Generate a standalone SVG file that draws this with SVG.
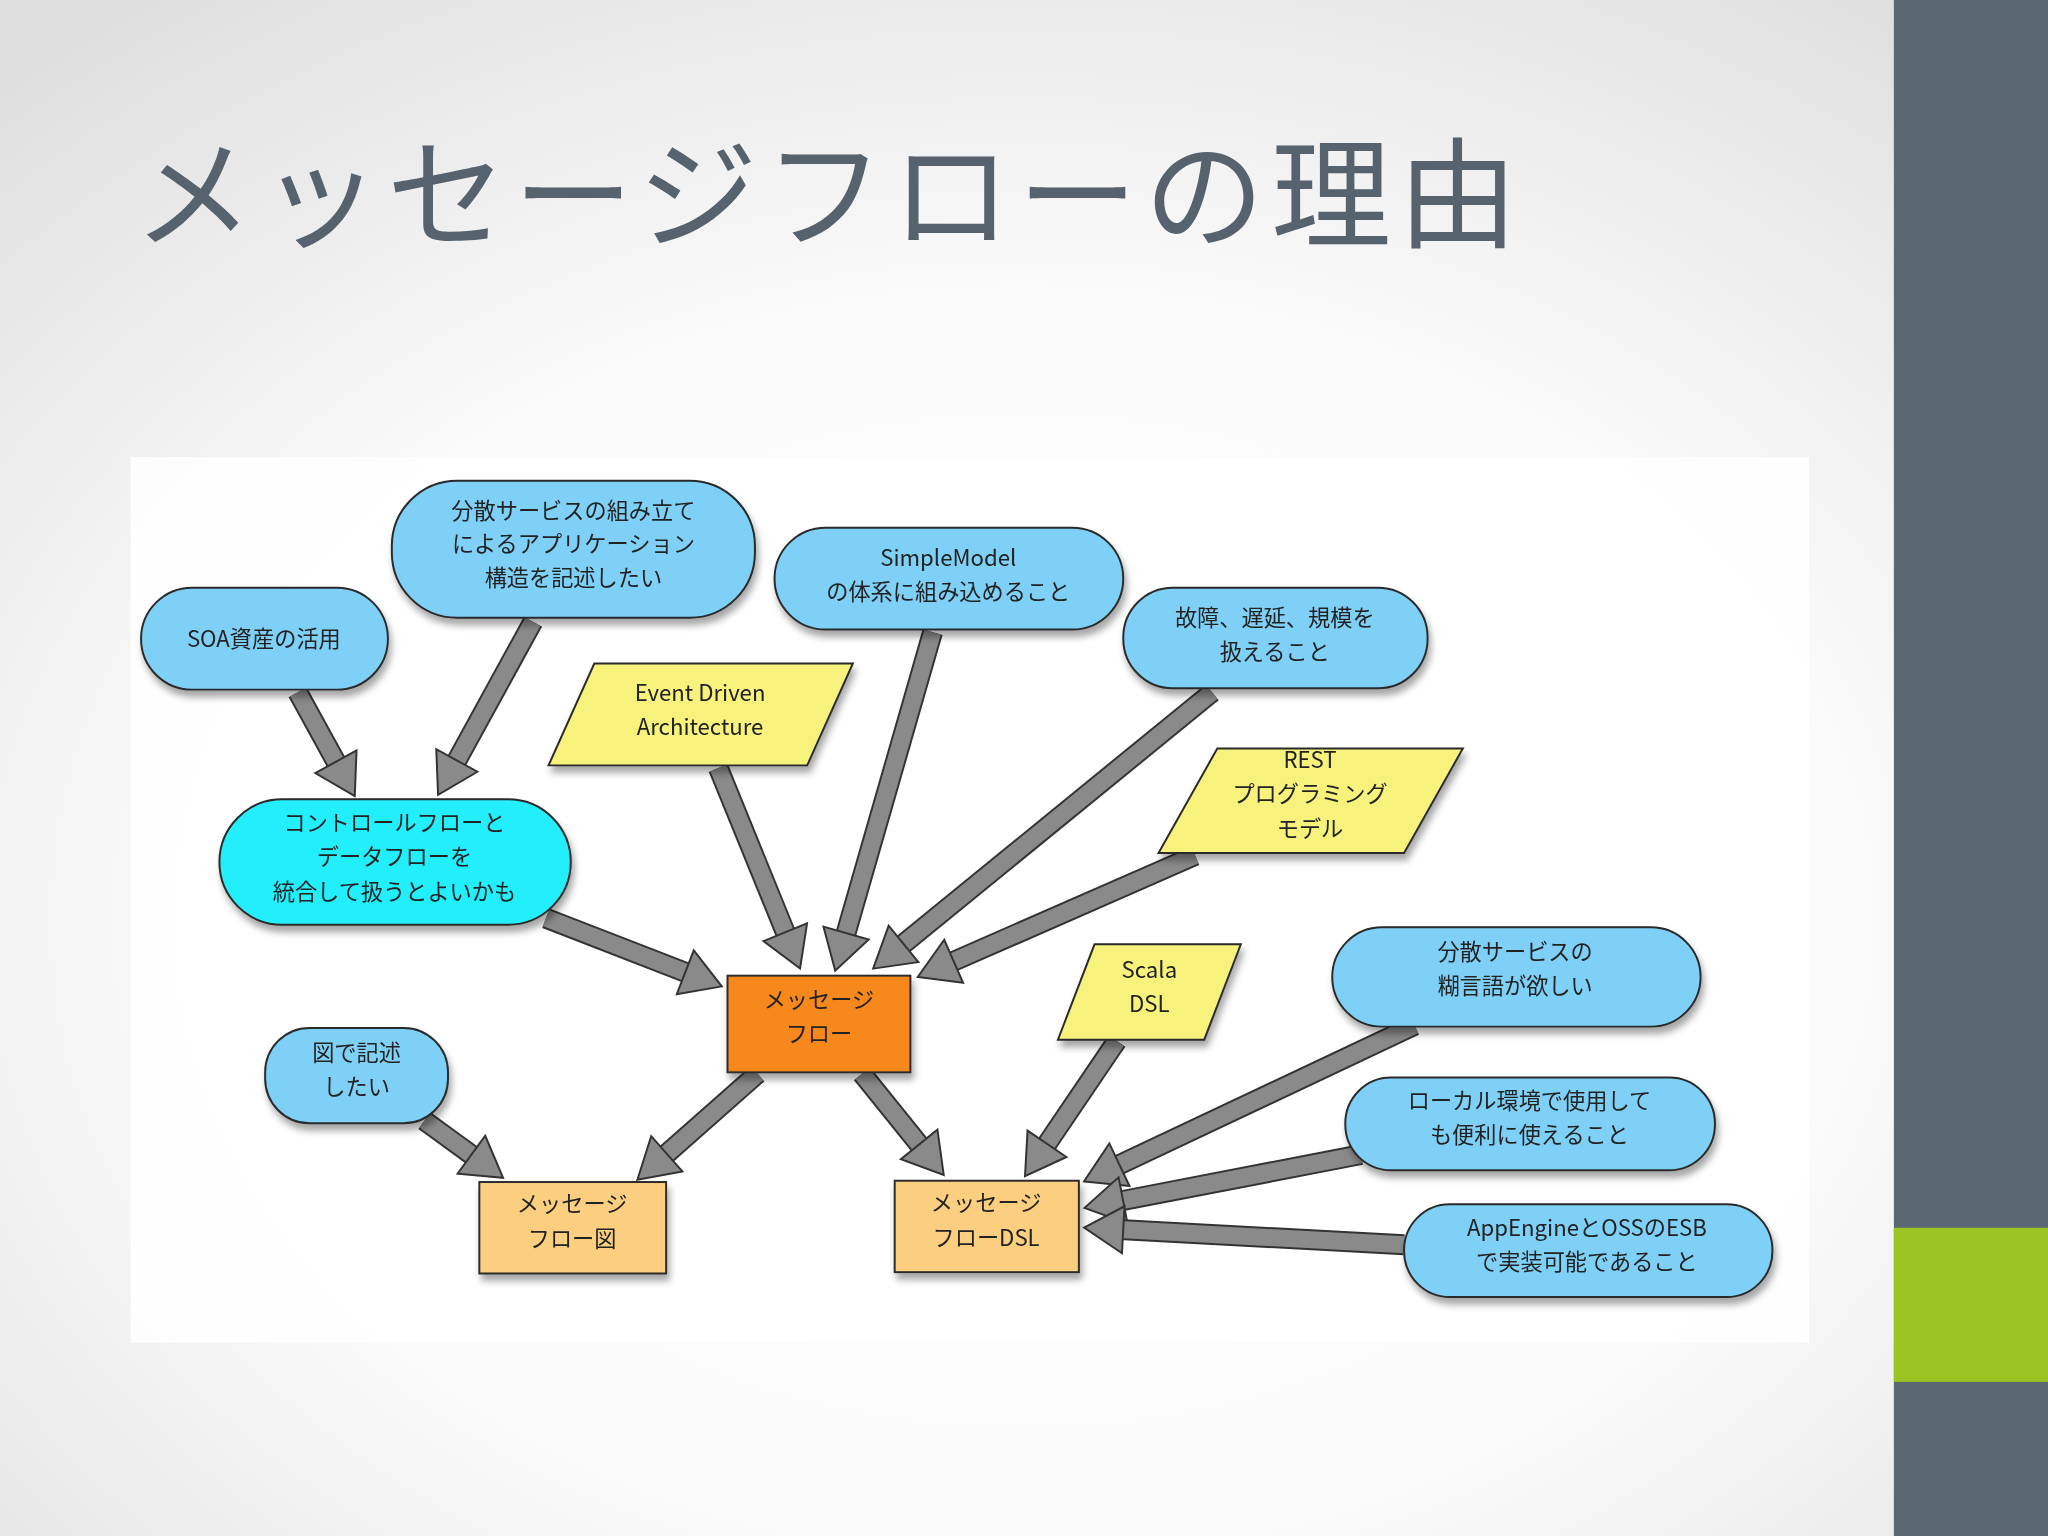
<svg xmlns="http://www.w3.org/2000/svg" width="2048" height="1536" viewBox="0 0 2048 1536">
<defs>
<radialGradient id="bg" cx="0.5" cy="0.6" r="0.75">
<stop offset="0" stop-color="#ffffff"/><stop offset="0.55" stop-color="#fafafa"/><stop offset="1" stop-color="#dedede"/>
</radialGradient>
<filter id="sh" x="-20%" y="-20%" width="140%" height="150%"><feDropShadow dx="2" dy="5" stdDeviation="3" flood-color="#000" flood-opacity="0.35"/></filter>
<marker id="ah" markerUnits="userSpaceOnUse" markerWidth="40" markerHeight="40" refX="10" refY="0" viewBox="-2 -20 34 40" orient="auto" overflow="visible">
<path d="M0,-18 L30,0 L0,18 Z" fill="#8a8a8a" stroke="#333" stroke-width="1.5" stroke-linejoin="miter"/>
</marker>
<style>
.b{fill:#7fd0f7;stroke:#2a2a2a;stroke-width:1.5}
.y{fill:#f6f27c;stroke:#2a2a2a;stroke-width:1.5}
.t{font-family:"Noto Sans CJK JP","Liberation Sans",sans-serif;font-size:17px;fill:#222;text-anchor:middle}
.o{stroke:#333;stroke-width:16;fill:none}
.i{stroke:#8a8a8a;stroke-width:13;fill:none;marker-end:url(#ah)}
</style>
</defs>
<rect width="2048" height="1536" fill="url(#bg)"/>
<g transform="scale(1.30612)">
<rect x="1450" y="0" width="118" height="1176" fill="#5a6874"/>
<rect x="1450" y="940" width="118" height="118" fill="#9bc322"/>
<rect x="100" y="350" width="1285" height="678" fill="#ffffff" opacity="0.85"/>
<text x="102" y="183" font-family="Noto Sans CJK JP,Liberation Sans,sans-serif" font-size="92" fill="#56636e" letter-spacing="5">メッセージフローの理由</text>
<g id="connectors">
<line class="o" x1="228" y1="530" x2="262" y2="592"/><line class="i" x1="228" y1="530" x2="262" y2="592"/>
<line class="o" x1="408" y1="476" x2="345" y2="591"/><line class="i" x1="408" y1="476" x2="345" y2="591"/>
<line class="o" x1="418" y1="703" x2="534" y2="748"/><line class="i" x1="418" y1="703" x2="534" y2="748"/>
<line class="o" x1="550" y1="588" x2="605" y2="723"/><line class="i" x1="550" y1="588" x2="605" y2="723"/>
<line class="o" x1="714" y1="484" x2="645" y2="724"/><line class="i" x1="714" y1="484" x2="645" y2="724"/>
<line class="o" x1="928" y1="530" x2="684" y2="729"/><line class="i" x1="928" y1="530" x2="684" y2="729"/>
<line class="o" x1="915" y1="655" x2="721" y2="740"/><line class="i" x1="915" y1="655" x2="721" y2="740"/>
<line class="o" x1="325" y1="858" x2="369" y2="890"/><line class="i" x1="325" y1="858" x2="369" y2="890"/>
<line class="o" x1="580" y1="822" x2="503" y2="890"/><line class="i" x1="580" y1="822" x2="503" y2="890"/>
<line class="o" x1="660" y1="822" x2="710" y2="884"/><line class="i" x1="660" y1="822" x2="710" y2="884"/>
<line class="o" x1="855" y1="797" x2="796" y2="884"/><line class="i" x1="855" y1="797" x2="796" y2="884"/>
<line class="o" x1="1083" y1="785" x2="848" y2="896"/><line class="i" x1="1083" y1="785" x2="848" y2="896"/>
<line class="o" x1="1042" y1="884" x2="850" y2="921"/><line class="i" x1="1042" y1="884" x2="850" y2="921"/>
<line class="o" x1="1075" y1="953" x2="850" y2="941"/><line class="i" x1="1075" y1="953" x2="850" y2="941"/>
</g>
<g id="soa" filter="url(#sh)"><rect class="b" x="108" y="450" width="189" height="78" rx="39"/><text class="t" x="202" y="495">SOA資産の活用</text></g>
<g id="bunsan" filter="url(#sh)"><rect class="b" x="300" y="368" width="278" height="105" rx="50"/><text class="t" x="439" y="397">分散サービスの組み立て</text><text class="t" x="439" y="423">によるアプリケーション</text><text class="t" x="439" y="449">構造を記述したい</text></g>
<g id="simplemodel" filter="url(#sh)"><rect class="b" x="593" y="404" width="267" height="78" rx="39"/><text class="t" x="726" y="433">SimpleModel</text><text class="t" x="726" y="459">の体系に組み込めること</text></g>
<g id="koshou" filter="url(#sh)"><rect class="b" x="860" y="450" width="233" height="77" rx="38"/><text class="t" x="976" y="479">故障、遅延、規模を</text><text class="t" x="976" y="505">扱えること</text></g>
<g id="eda" filter="url(#sh)"><polygon class="y" points="455,508 653,508 618,586 420,586"/><text class="t" x="536" y="537">Event Driven</text><text class="t" x="536" y="563">Architecture</text></g>
<g id="rest" filter="url(#sh)"><polygon class="y" points="932,573 1120,573 1075,653 887,653"/><text class="t" x="1003" y="588">REST</text><text class="t" x="1003" y="614">プログラミング</text><text class="t" x="1003" y="641">モデル</text></g>
<g id="control" filter="url(#sh)"><rect x="168" y="612" width="269" height="96" rx="48" fill="#24eefc" stroke="#2a2a2a" stroke-width="1.5"/><text class="t" x="302" y="636">コントロールフローと</text><text class="t" x="302" y="662">データフローを</text><text class="t" x="302" y="689">統合して扱うとよいかも</text></g>
<g id="mflow" filter="url(#sh)"><rect x="557" y="747" width="140" height="74" fill="#f7891e" stroke="#2a2a2a" stroke-width="1.5"/><text class="t" x="627" y="772">メッセージ</text><text class="t" x="627" y="798">フロー</text></g>
<g id="scala" filter="url(#sh)"><polygon class="y" points="838,723 950,723 922,796 810,796"/><text class="t" x="880" y="749">Scala</text><text class="t" x="880" y="775">DSL</text></g>
<g id="glue" filter="url(#sh)"><rect class="b" x="1020" y="710" width="282" height="76" rx="38"/><text class="t" x="1160" y="735">分散サービスの</text><text class="t" x="1160" y="761">糊言語が欲しい</text></g>
<g id="local" filter="url(#sh)"><rect class="b" x="1030" y="825" width="283" height="71" rx="35"/><text class="t" x="1171" y="849">ローカル環境で使用して</text><text class="t" x="1171" y="875">も便利に使えること</text></g>
<g id="appengine" filter="url(#sh)"><rect class="b" x="1075" y="922" width="282" height="71" rx="35"/><text class="t" x="1215" y="946">AppEngineとOSSのESB</text><text class="t" x="1215" y="972">で実装可能であること</text></g>
<g id="zu" filter="url(#sh)"><rect class="b" x="203" y="787" width="140" height="73" rx="34"/><text class="t" x="273" y="812">図で記述</text><text class="t" x="273" y="838">したい</text></g>
<g id="mfzu" filter="url(#sh)"><rect x="367" y="905" width="143" height="70" fill="#fbcf7f" stroke="#2a2a2a" stroke-width="1.5"/><text class="t" x="438" y="928">メッセージ</text><text class="t" x="438" y="955">フロー図</text></g>
<g id="mfdsl" filter="url(#sh)"><rect x="685" y="904" width="141" height="70" fill="#fbcf7f" stroke="#2a2a2a" stroke-width="1.5"/><text class="t" x="755" y="927">メッセージ</text><text class="t" x="755" y="954">フローDSL</text></g>
</g>
</svg>
